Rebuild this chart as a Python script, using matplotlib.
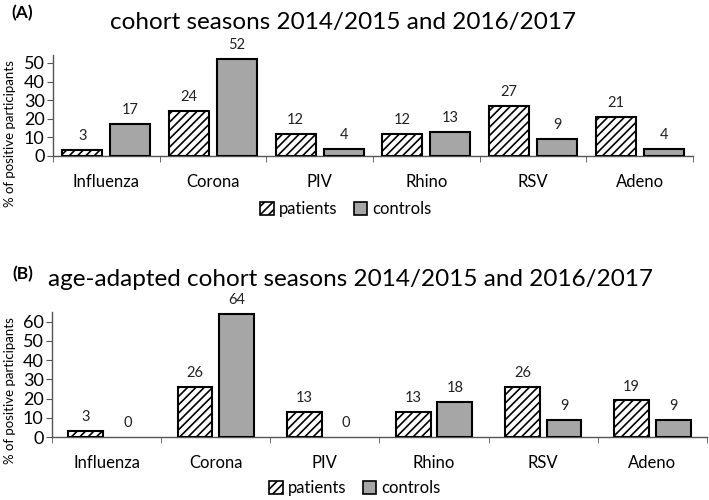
import matplotlib
matplotlib.use("Agg")
import matplotlib.pyplot as plt
import numpy as np
from matplotlib.patches import Patch

plt.rcParams['font.family'] = ['Lato', 'DejaVu Sans']
plt.rcParams['hatch.linewidth'] = 1.2

categories = ["Influenza", "Corona", "PIV", "Rhino", "RSV", "Adeno"]
a_patients = [3, 24, 12, 12, 27, 21]
a_controls = [17, 52, 4, 13, 9, 4]
b_patients = [3, 26, 13, 13, 26, 19]
b_controls = [0, 64, 0, 18, 9, 9]
a_yticks = [0, 10, 20, 30, 40, 50]
b_yticks = [0, 10, 20, 30, 40, 50, 60]

grey = '#A6A6A6'
axcol = '#555555'

fig = plt.figure(figsize=(7.09, 5.00), dpi=100)

def panel(rect, pat, con, yticks, ymax, width, off):
    ax = fig.add_axes(rect)
    x = np.arange(len(categories))
    b1 = ax.bar(x - off, pat, width, facecolor='white', edgecolor='black',
                hatch='////', linewidth=1.5, zorder=3)
    b2 = ax.bar(x + off, con, width, facecolor=grey, edgecolor='black',
                linewidth=1.5, zorder=3)
    for bars, vals in ((b1, pat), (b2, con)):
        for r, v in zip(bars, vals):
            if v == 0:
                r.set_linewidth(0)
            ax.annotate(str(v), (r.get_x() + r.get_width() / 2, v),
                        xytext=(0, 5), textcoords='offset points',
                        ha='center', va='bottom', fontsize=10.5, color='#222222')
    ax.set_xlim(-0.5, len(categories) - 0.5)
    ax.set_ylim(0, ymax)
    ax.set_yticks(yticks)
    ax.set_xticks(x)
    ax.set_xticklabels(categories, fontsize=12)
    ax.set_xticks(np.arange(len(categories) + 1) - 0.5, minor=True)
    ax.tick_params(axis='x', which='major', length=0, pad=13)
    ax.tick_params(axis='x', which='minor', length=4, direction='out', color=axcol)
    ax.tick_params(axis='y', length=4, direction='out', color=axcol, labelsize=13, pad=2)
    for s in ('top', 'right'):
        ax.spines[s].set_visible(False)
    for s in ('left', 'bottom'):
        ax.spines[s].set_color(axcol)
        ax.spines[s].set_linewidth(1.0)
    return ax

axA = panel([53/709, 1-156/500, 640/709, 101/500], a_patients, a_controls,
            a_yticks, 54.3, 0.375, 0.225)
axB = panel([52/709, 1-437/500, 655/709, 125/500], b_patients, b_controls,
            b_yticks, 65, 0.32, 0.19)

fig.text(343/709, 1-22/500, "cohort seasons 2014/2015 and 2016/2017",
         ha='center', va='center', fontsize=17.5)
fig.text(350/709, 1-280/500, "age-adapted cohort seasons 2014/2015 and 2016/2017",
         ha='center', va='center', fontsize=17.5)
fig.text(22/709, 1-13/500, "(A)", ha='center', va='center', fontsize=12.5, fontweight='bold')
fig.text(23/709, 1-274/500, "(B)", ha='center', va='center', fontsize=12.5, fontweight='bold')
fig.text(10/709, 1-134/500, "% of positive participants", rotation=90,
         ha='center', va='center', fontsize=9.5)
fig.text(10/709, 1-391/500, "% of positive participants", rotation=90,
         ha='center', va='center', fontsize=9.5)

handles = [Patch(facecolor='white', edgecolor='black', hatch='////', linewidth=1.2, label='patients'),
           Patch(facecolor=grey, edgecolor='black', linewidth=1.2, label='controls')]
for xc, yc in ((346/709, 1-209/500), (355/709, 1-488/500)):
    fig.legend(handles=handles, loc='center', bbox_to_anchor=(xc, yc), ncol=2,
               frameon=False, handlelength=0.8, handleheight=0.8, handletextpad=0.3,
               columnspacing=1.0, fontsize=12, borderpad=0.2)

fig.savefig("out.png", dpi=100)
